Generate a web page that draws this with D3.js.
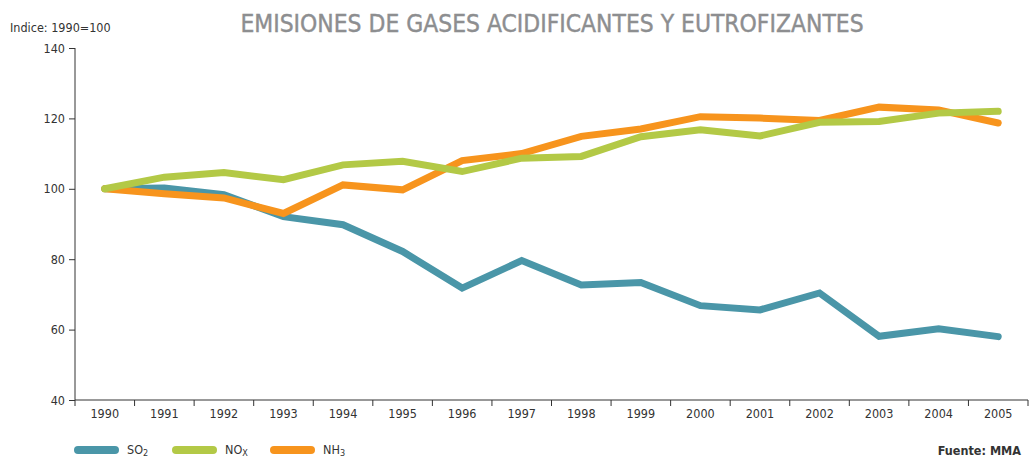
<!DOCTYPE html>
<html>
<head>
<meta charset="utf-8">
<script src="https://cdn.jsdelivr.net/npm/d3@7"></script>
<style>
  body { margin: 0; background: #fff; }
  svg text { font-family: "Liberation Sans Narrow", "DejaVu Sans Condensed", "Roboto", sans-serif; }
</style>
</head>
<body>
<svg id="chart" width="1031" height="458"></svg>
<script>
// years on the x axis
const years = ["1990", "1991", "1992", "1993", "1994", "1995", "1996", "1997",
               "1998", "1999", "2000", "2001", "2002", "2003", "2004", "2005"];

// index values, 1990 = 100
const so2 = [100, 100.2, 98.3, 92.1, 89.8, 82.2, 71.8, 79.6, 72.7, 73.4, 66.8, 65.6, 70.4, 58.1, 60.2, 58.0];
const nox = [100, 103.3, 104.6, 102.6, 106.8, 107.8, 104.9, 108.7, 109.2, 114.8, 116.8, 115.0, 118.9, 119.1, 121.5, 122.0];
const nh3 = [100, 98.6, 97.4, 93.0, 101.1, 99.7, 108.0, 110.0, 114.9, 117.0, 120.5, 120.1, 119.4, 123.2, 122.4, 118.7];

const yTicks = [40, 60, 80, 100, 120, 140];

const series = [
    {name: "SO", sub: "2", values: so2, color: "#4a96a8"},
    {name: "NH", sub: "3", values: nh3, color: "#f7941d"},
    {name: "NO", sub: "X", values: nox, color: "#b3c946"}
];
const legendOrder = [series[0], series[2], series[1]];

const svg = d3.select("#chart");

/** Setup the scales*/
let x = d3.scaleBand()
    .domain(years)
    .range([75, 1028]);

let y = d3.scaleLinear()
    .domain([40, 140])
    .range([400, 48]);

// title
svg.append("text")
    .attr("x", 552)
    .attr("y", 32)
    .attr("text-anchor", "middle")
    .attr("fill", "#8d8e90")
    .attr("stroke", "#8d8e90")
    .attr("stroke-width", 0.4)
    .style("font-size", "24.4px")
    .text("EMISIONES DE GASES ACIDIFICANTES Y EUTROFIZANTES");

svg.append("text")
    .attr("x", 10)
    .attr("y", 32)
    .attr("fill", "#333")
    .style("font-size", "12.5px")
    .text("Indice: 1990=100");

// y axis
let yAxis = svg.append("g")
    .attr("transform", "translate(75,0)")
    .call(d3.axisLeft(y).tickValues(yTicks).tickSize(6).tickPadding(4));

// x axis, ticks on band edges
let xAxis = svg.append("g")
    .attr("transform", "translate(0,400)")
    .call(d3.axisBottom(x).tickSize(0).tickPadding(9));

xAxis.selectAll(".edge")
    .data(years.concat(["end"]))
    .join("line")
    .attr("class", "edge")
    .attr("x1", (d, i) => 75 + i * x.step())
    .attr("x2", (d, i) => 75 + i * x.step())
    .attr("y1", 0)
    .attr("y2", 6)
    .attr("stroke", "#333");

[yAxis, xAxis].forEach(a => {
    a.selectAll("text").attr("fill", "#333").style("font-size", "12.5px")
        .style("font-family", "\"Liberation Sans Narrow\", \"DejaVu Sans Condensed\", sans-serif");
    a.selectAll(".tick line").attr("stroke", "#333");
    a.select(".domain").remove();
});
svg.append("line").attr("x1", 75).attr("x2", 75).attr("y1", 48).attr("y2", 400).attr("stroke", "#333");
svg.append("line").attr("x1", 75).attr("x2", 1028).attr("y1", 400).attr("y2", 400).attr("stroke", "#333");

// lines
let line = d3.line()
    .x((d, i) => x(years[i]) + x.bandwidth() / 2)
    .y(d => y(d));

svg.selectAll(".series")
    .data(series)
    .join("path")
    .attr("class", "series")
    .attr("d", d => line(d.values))
    .attr("fill", "none")
    .attr("stroke", d => d.color)
    .attr("stroke-width", 7)
    .attr("stroke-linecap", "round")
    .attr("stroke-linejoin", "miter");

// legend
let legend = svg.selectAll(".legend")
    .data(legendOrder)
    .join("g")
    .attr("class", "legend")
    .attr("transform", (d, i) => `translate(${78 + i * 98},450)`);

legend.append("line")
    .attr("x1", 0).attr("x2", 37)
    .attr("stroke", d => d.color)
    .attr("stroke-width", 8)
    .attr("stroke-linecap", "round");

let lt = legend.append("text")
    .attr("x", 49)
    .attr("y", 4)
    .attr("fill", "#333")
    .style("font-size", "12.5px");
lt.append("tspan").text(d => d.name);
lt.append("tspan").attr("dy", 2).style("font-size", "9px").text(d => d.sub);

svg.append("text")
    .attr("x", 1021)
    .attr("y", 455)
    .attr("text-anchor", "end")
    .attr("fill", "#333")
    .style("font-size", "12.5px")
    .style("font-weight", "bold")
    .text("Fuente: MMA");
</script>
</body>
</html>
